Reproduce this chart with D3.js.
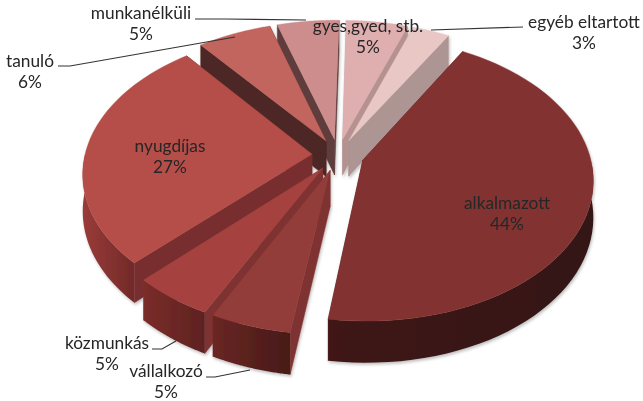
<!DOCTYPE html>
<html><head><meta charset="utf-8">
<script src="https://cdnjs.cloudflare.com/ajax/libs/d3/7.8.5/d3.min.js"></script>
<style>html,body{margin:0;background:#fff}svg{display:block}text{font-family:Lato,"Open Sans",sans-serif;font-size:17.3px;fill:#262626}</style>
</head><body><svg id="c" width="643" height="401"></svg>
<script>
const categories=["alkalmazott","vállalkozó","közmunkás","nyugdíjas","tanuló","munkanélküli","gyes,gyed, stb.","egyéb eltartott"];
const shares=[44,5,5,27,6,5,5,3];
const topColors=["#833232","#933c3b","#a54340","#b54e48","#c2655f","#cd8d8d","#deafae","#e8c7c5"];
const sideStart=["#5a2222","#7f3130","#7f3130","#782f2e","#4d2825","#5f3c3c","#bdbdbd","#b59190"];
const sideEnd=["#5a2222","#7f3130","#7f3130","#782f2e","#4d2825","#5f3c3c","#b59190","#ad9593"];
const wallFrom=["#3f1715","#6a2623","#7a2d2a","#9a3b39","#a85550","#b07575","#c09595","#c8aaa8"];
const wallTo=["#341413","#471a18","#5e2220","#712a28","#a85550","#b07575","#c09595","#c8aaa8"];
const labelX=[507,166,107,170,30,141,368,584];
const labelY=[204,372,344,147,62,14,27,23];
const leaders=[[[195,19],[225,19],[306,20]],[[58,66],[70,66],[235,37]],[[431,30],[523,27]],[[152,349],[162,349],[176,341]],[[206,377],[215,377],[250,370]]];

const svg=d3.select("#c");
const startA=30*Math.PI/180, explode=0.115, persp=0.13, tilt=0.61, thick=36;
const cx=338,cy=155;
const sx=d3.scaleLinear().domain([-1,1]).range([-227,227]);
const sy=d3.scaleLinear().domain([-1,1]).range([227*tilt,-227*tilt]);
function proj(u,v,down){const s=1/(1+persp*v);return [cx+sx(u)*s,cy+sy(v)*s+(down?thick*s:0)];}
const arcs=d3.pie().sort(null).startAngle(startA).endAngle(startA+2*Math.PI)(shares);
const defs=svg.append("defs");
const f=defs.append("filter").attr("id","sh").attr("x","-5%").attr("y","-5%").attr("width","110%").attr("height","110%");
f.append("feDropShadow").attr("dx",1).attr("dy",2).attr("stdDeviation",1.5).attr("flood-color","#000").attr("flood-opacity",.25);
const soft=defs.append("filter").attr("id","soft");soft.append("feGaussianBlur").attr("stdDeviation",0.35);

const slices=arcs.map((a,i)=>{const m=(a.startAngle+a.endAngle)/2;
 return {a,i,ox:explode*Math.sin(m),oy:explode*Math.cos(m),m};});
const pt=(s,ang,r,down)=>proj(s.ox+r*Math.sin(ang),s.oy+r*Math.cos(ang),down);
const line=d3.line();
const angles=s=>d3.range(61).map(k=>s.a.startAngle+(s.a.endAngle-s.a.startAngle)*k/60);
const order=slices.slice().sort((p,q)=>(q.oy+Math.cos(q.m)*.5)-(p.oy+Math.cos(p.m)*.5));
const g=svg.append("g").attr("filter","url(#sh)");
order.forEach(s=>{
 const i=s.i;
 const gs=g.append("g");
 const apexT=pt(s,0,0,false),apexB=pt(s,0,0,true);
 const all=angles(s);
 const top=all.map(a=>pt(s,a,1,false));
 [[s.a.startAngle,sideStart[i]],[s.a.endAngle,sideEnd[i]]].forEach(([ang,col])=>{
  gs.append("path").attr("d",line([apexT,pt(s,ang,1,false),pt(s,ang,1,true),apexB])+"Z").attr("fill",col).attr("stroke",col).attr("stroke-width",.5);
 });
 const near=all.filter(a=>Math.cos(a)<=0);
 if(near.length>1){
  const wt=near.map(a=>pt(s,a,1,false)),wb=near.map(a=>pt(s,a,1,true));
  const xs=d3.extent(wt,d=>d[0]);
  const id="w"+i;
  const lg=defs.append("linearGradient").attr("id",id).attr("gradientUnits","userSpaceOnUse").attr("x1",xs[0]).attr("x2",xs[1]).attr("y1",0).attr("y2",0);
  lg.append("stop").attr("offset",0).attr("stop-color",wallFrom[i]);
  lg.append("stop").attr("offset",1).attr("stop-color",wallTo[i]);
  gs.append("path").attr("d",line(wt.concat(wb.slice().reverse()))+"Z").attr("fill",`url(#${id})`);
 }
 gs.append("path").attr("d",line([apexT].concat(top))+"Z").attr("fill",topColors[i]).attr("stroke",topColors[i]).attr("stroke-width",.4);
});
const lg=svg.append("g").attr("fill","none").attr("stroke","#333").attr("stroke-width",1.1);
leaders.forEach(l=>lg.append("path").attr("d",line(l)));
const t=svg.append("g").attr("text-anchor","middle").attr("filter","url(#soft)");
categories.forEach((c,i)=>{
 t.append("text").attr("x",labelX[i]).attr("y",labelY[i]+5).text(c);
 t.append("text").attr("x",labelX[i]).attr("y",labelY[i]+26).text(shares[i]+"%");
});
</script></body></html>
